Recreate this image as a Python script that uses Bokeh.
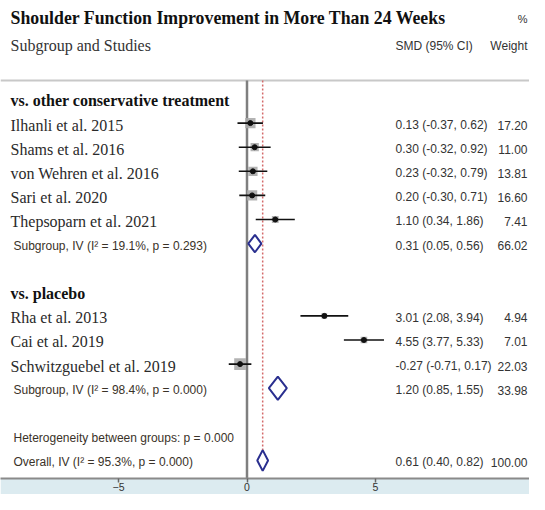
from bokeh.plotting import figure
from bokeh.models import Range1d, FixedTicker, ColumnDataSource
from bokeh.core.properties import value
from bokeh.embed import file_html
from bokeh.resources import INLINE
import math

# ---------------- data ----------------
title_text = "Shoulder Function Improvement in More Than 24 Weeks"
headings = ["vs. other conservative treatment", "vs. placebo"]
heading_rows = [0, 8]

studies = ["Ilhanli et al. 2015", "Shams et al. 2016", "von Wehren et al. 2016",
           "Sari et al. 2020", "Thepsoparn et al.  2021",
           "Rha et al. 2013", "Cai et al. 2019", "Schwitzguebel et al. 2019"]
study_rows = [1, 2, 3, 4, 5, 9, 10, 11]
smd = [0.13, 0.30, 0.23, 0.20, 1.10, 3.01, 4.55, -0.27]
ci_lo = [-0.37, -0.32, -0.32, -0.30, 0.34, 2.08, 3.77, -0.71]
ci_hi = [0.62, 0.92, 0.79, 0.71, 1.86, 3.94, 5.33, 0.17]
weights = [17.20, 11.00, 13.81, 16.60, 7.41, 4.94, 7.01, 22.03]

pooled_labels = ["Subgroup, IV (I\u00b2 = 19.1%, p = 0.293)",
                 "Subgroup, IV (I\u00b2 = 98.4%, p = 0.000)",
                 "Overall, IV (I\u00b2 = 95.3%, p = 0.000)"]
pooled_rows = [6, 12, 15]
pooled_est = [0.31, 1.20, 0.61]
pooled_lo = [0.05, 0.85, 0.40]
pooled_hi = [0.56, 1.55, 0.82]
pooled_weights = [66.02, 33.98, 100.00]

het_text = "Heterogeneity between groups: p = 0.000"
het_row = 14
overall_est = 0.61
x_ticks = [-5, 0, 5]

# ---------------- layout constants ----------------
W, H = 529, 494
PX_PER_UNIT = 25.7
ZERO_PX = 246.5
ROW0_PX = 98.5
ROW_PX = 24.1
BOTTOM = 16

def px2x(px):
    return (px - ZERO_PX) / PX_PER_UNIT

def px2r(py):
    return (py - ROW0_PX) / ROW_PX

frame_h = H - BOTTOM
p = figure(width=W, height=H, output_backend="svg", toolbar_location=None,
           x_range=Range1d(px2x(0), px2x(W)),
           y_range=Range1d(px2r(frame_h), px2r(0)),
           y_axis_location=None, min_border_left=0, min_border_right=0,
           min_border_top=0, min_border_bottom=BOTTOM)
p.background_fill_color = "white"
p.border_fill_color = "#dcebf0"
p.outline_line_color = None
p.xgrid.visible = False
p.ygrid.visible = False

ax = p.xaxis[0]
ax.ticker = FixedTicker(ticks=x_ticks)
ax.axis_line_color = "#8a8a8a"
ax.axis_line_width = 2
ax.major_tick_line_color = "#666666"
ax.major_tick_line_width = 1.5
ax.major_tick_out = 4
ax.major_tick_in = 0
ax.minor_tick_line_color = None
ax.major_label_standoff = 0
ax.major_label_text_font = "Liberation Sans"
ax.major_label_text_font_size = "10.5px"
ax.major_label_text_color = "#333333"

serif = value("Liberation Serif")
sans = value("Liberation Sans")

X_LEFT = px2x(10)
X_SUB = px2x(13)
X_CI = px2x(395)
X_W = px2x(527)
sep_row = px2r(80)
bottom_row = px2r(frame_h)
TXT_DY = 0.08

# separator and reference lines
p.segment(x0=[px2x(0)], y0=[sep_row], x1=[px2x(W)], y1=[sep_row],
          line_color="#c8c8c8", line_width=2)
p.segment(x0=[0], y0=[sep_row], x1=[0], y1=[bottom_row],
          line_color="#7f7f7f", line_width=2.5)
p.segment(x0=[overall_est], y0=[sep_row], x1=[overall_est], y1=[pooled_rows[2] - 0.43],
          line_color="#d46a6a", line_width=1.5, line_dash="2 2")

# title & headers
p.text(x=[X_LEFT], y=[px2r(17)], text=[title_text], text_font=serif,
       text_font_style="bold", text_font_size="17.8px", text_color="#111111",
       text_baseline="middle")
p.text(x=[X_W], y=[px2r(18)], text=["%"], text_font=sans, text_align="right",
       text_font_size="11px", text_color="#333333", text_baseline="middle")
p.text(x=[X_LEFT], y=[px2r(45)], text=["Subgroup and Studies"], text_font=serif,
       text_font_size="16px", text_color="#333333", text_baseline="middle")
p.text(x=[X_CI], y=[px2r(45)], text=["SMD (95% CI)"], text_font=sans,
       text_font_size="12px", text_color="#333333", text_baseline="middle")
p.text(x=[X_W], y=[px2r(45)], text=["Weight"], text_font=sans, text_align="right",
       text_font_size="12px", text_color="#333333", text_baseline="middle")

# headings
p.text(x=[X_LEFT] * len(headings), y=[r + TXT_DY for r in heading_rows], text=headings,
       text_font=serif, text_font_style="bold", text_font_size="16px",
       text_color="#111111", text_baseline="middle")

# studies
src = ColumnDataSource(dict(
    y=study_rows, smd=smd, lo=ci_lo, hi=ci_hi, label=studies,
    ci=["%.2f (%.2f, %.2f)" % (a, b, c) for a, b, c in zip(smd, ci_lo, ci_hi)],
    wt=["%.2f" % w for w in weights],
    sq=[2.5 * math.sqrt(w) for w in weights],
    ty=[r + TXT_DY for r in study_rows],
    lx=[X_LEFT] * len(studies), cx=[X_CI] * len(studies), wx=[X_W] * len(studies),
))
p.text(x="lx", y="ty", text="label", source=src, text_font=serif,
       text_font_size="16px", text_color="#2a2a2a", text_baseline="middle")
p.scatter(x="smd", y="y", size="sq", marker="square", source=src,
          fill_color="#ababab", line_color=None, fill_alpha=0.9)
p.segment(x0="lo", y0="y", x1="hi", y1="y", source=src,
          line_color="#111111", line_width=1.6)
p.scatter(x="smd", y="y", size=5, marker="circle", source=src,
          fill_color="#111111", line_color="#111111")
p.text(x="cx", y="ty", text="ci", source=src, text_font=sans,
       text_font_size="12px", text_color="#333333", text_baseline="middle")
p.text(x="wx", y="ty", text="wt", source=src, text_font=sans,
       text_font_size="12px", text_color="#333333", text_baseline="middle",
       text_align="right")

# pooled
psrc = ColumnDataSource(dict(
    y=[r + TXT_DY for r in pooled_rows], label=pooled_labels,
    ci=["%.2f (%.2f, %.2f)" % (a, b, c) for a, b, c in zip(pooled_est, pooled_lo, pooled_hi)],
    wt=["%.2f" % w for w in pooled_weights],
    lx=[X_SUB] * 3, cx=[X_CI] * 3, wx=[X_W] * 3,
))
p.text(x="lx", y="y", text="label", source=psrc, text_font=sans,
       text_font_size="12px", text_color="#3a3228", text_baseline="middle")
p.text(x="cx", y="y", text="ci", source=psrc, text_font=sans,
       text_font_size="12px", text_color="#333333", text_baseline="middle")
p.text(x="wx", y="y", text="wt", source=psrc, text_font=sans,
       text_font_size="12px", text_color="#333333", text_baseline="middle",
       text_align="right")

dh = [0.36, 0.48, 0.43]
xs = [[lo, e, hi, e] for lo, e, hi in zip(pooled_lo, pooled_est, pooled_hi)]
ys = [[r, r - h, r, r + h] for r, h in zip(pooled_rows, dh)]
p.patches(xs=xs, ys=ys, fill_color=None, line_color="#2a2f8f", line_width=2)

p.text(x=[X_SUB], y=[het_row + TXT_DY], text=[het_text], text_font=sans,
       text_font_size="12px", text_color="#3a3228", text_baseline="middle")

open("out.html", "w").write(file_html(p, INLINE))
